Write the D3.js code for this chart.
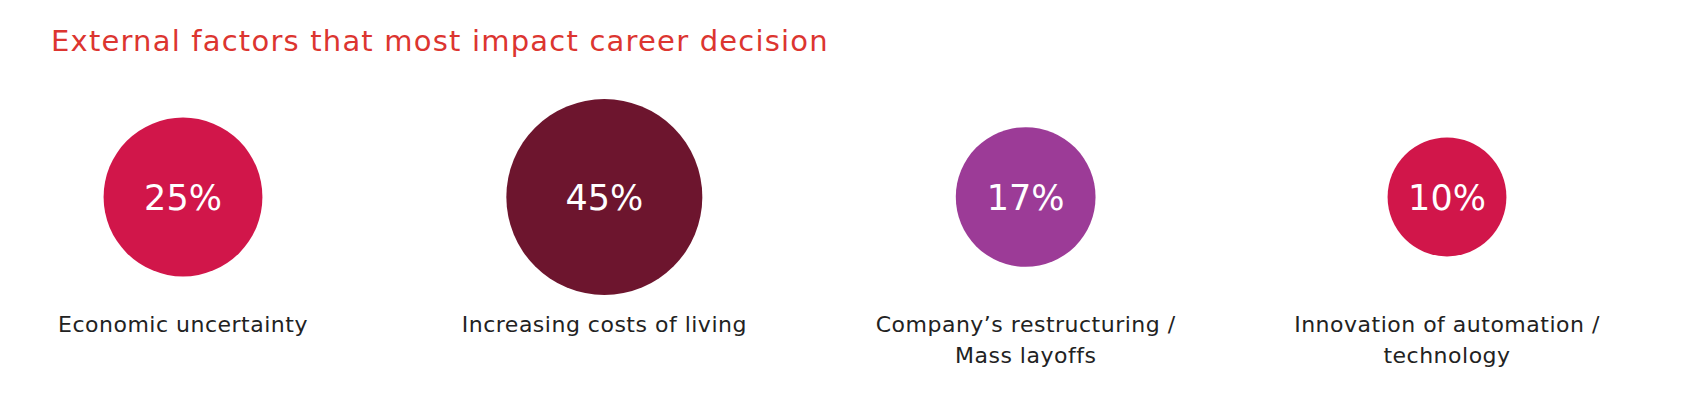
<!DOCTYPE html>
<html>
<head>
<meta charset="utf-8">
<script src="https://cdn.jsdelivr.net/npm/d3@7"></script>
<style>
  body { margin: 0; background: #fff; }
  text { font-family: "DejaVu Sans", "Open Sans", sans-serif; }
</style>
</head>
<body>
<svg></svg>
<script>
const width = 1684;
const height = 409;

// chart data
const factors = ["Economic uncertainty", "Increasing costs of living", "Company\u2019s restructuring / Mass layoffs", "Innovation of automation / technology"];
const labelLines = [["Economic uncertainty"], ["Increasing costs of living"], ["Company\u2019s restructuring /", "Mass layoffs"], ["Innovation of automation /", "technology"]];
const shares = [25, 45, 17, 10];
const colors = ["#d1164a", "#6d152e", "#9c3b97", "#d1164a"];

let data = factors.map((d, i) => {
    return { name: d, value: shares[i], lines: labelLines[i], color: colors[i] };
});

let svg = d3.select("svg").attr("width", width).attr("height", height);

//Title
svg.append("text")
    .attr("x", 51)
    .attr("y", 51)
    .attr("fill", "#dc3530")
    .attr("font-size", 29)
    .attr("letter-spacing", 1.2)
    .text("External factors that most impact career decision");

//x position for each factor and a radius scale for the bubbles
let xScale = d3.scalePoint().domain(factors).range([183, 1447]);
let rScale = d3.scaleSqrt().domain([0, 45]).range([25, 98]);
const cy = 197;

let g = svg.selectAll(".factor")
    .data(data)
    .enter().append("g")
    .attr("class", "factor")
    .attr("transform", d => "translate(" + xScale(d.name) + ",0)");

g.append("circle")
    .attr("cy", cy)
    .attr("r", d => rScale(d.value))
    .attr("fill", d => d.color);

g.append("text")
    .attr("y", cy)
    .attr("dy", "0.36em")
    .attr("text-anchor", "middle")
    .attr("fill", "#fff")
    .attr("font-size", 35)
    .text(d => d.value + "%");

g.append("text")
    .attr("text-anchor", "middle")
    .attr("fill", "#222")
    .attr("font-size", 22)
    .attr("letter-spacing", 0.5)
    .selectAll("tspan")
    .data(d => d.lines)
    .enter().append("tspan")
    .attr("x", 0)
    .attr("y", (d, i) => 332 + i * 31)
    .text(d => d);
</script>
</body>
</html>
